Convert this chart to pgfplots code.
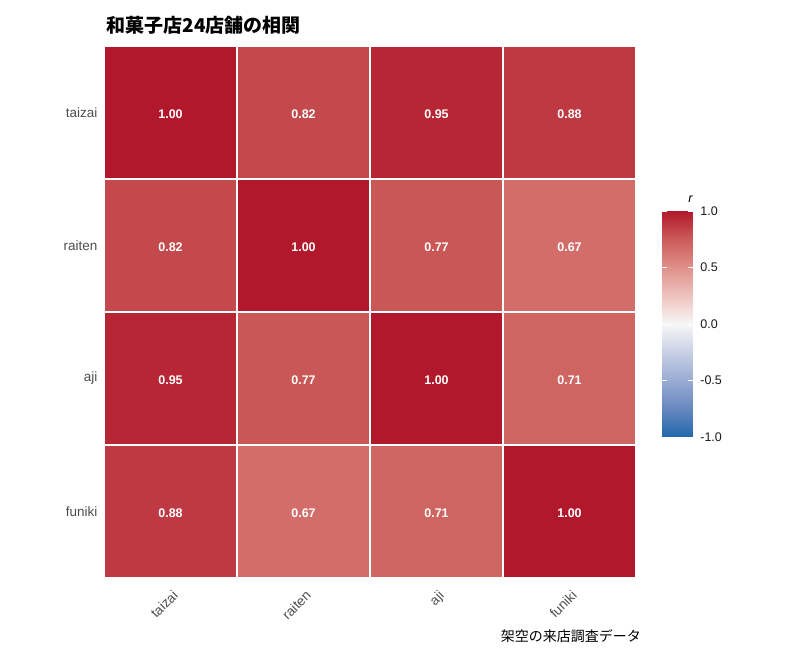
\documentclass[border=0pt]{standalone}
\usepackage{fontspec}
\setmainfont{Liberation Sans}
\newfontfamily\cjk{Noto Sans CJK JP}
\usepackage{pgfplots}
\usepackage{pgfplotstable}
\pgfplotsset{compat=1.18}
\definecolor{axtext}{HTML}{4D4D4D}
\pgfplotsset{colormap={rdbu}{rgb255=(33,102,172) rgb255=(102,136,191) rgb255=(153,171,210) rgb255=(200,208,228) rgb255=(247,247,247) rgb255=(238,195,191) rgb255=(224,144,138) rgb255=(203,92,89) rgb255=(178,24,43)}}
\pgfplotstableread{
x y r
0 0 0.88
1 0 0.67
2 0 0.71
3 0 1.00
0 1 0.95
1 1 0.77
2 1 1.00
3 1 0.71
0 2 0.82
1 2 1.00
2 2 0.77
3 2 0.67
0 3 1.00
1 3 0.82
2 3 0.95
3 3 0.88
}\cortable
\begin{document}
\begin{tikzpicture}
\fill[white] (0,0) rectangle (792pt,658pt);
\path[use as bounding box] (0,0) rectangle (792pt,658pt);
\begin{axis}[
  at={(104pt,80pt)}, anchor=south west,
  scale only axis, width=532pt, height=532pt,
  xmin=-0.5, xmax=3.5, ymin=-0.5, ymax=3.5,
  clip=false,
  axis line style={draw=none},
  major tick length=0pt,
  xtick={0,1,2,3}, xticklabels={taizai,raiten,aji,funiki},
  ytick={0,1,2,3}, yticklabels={funiki,aji,raiten,taizai},
  xticklabel style={xshift=1.3pt, yshift=-6.7pt, rotate=45, anchor=north east, font=\fontsize{13.5}{16}\selectfont, text=axtext},
  yticklabel style={font=\fontsize{13.5}{16}\selectfont, text=axtext, xshift=-3pt},
  colormap name=rdbu, point meta min=-1, point meta max=1,
  title={\cjk\bfseries\fontsize{19}{22}\selectfont 和菓子店24店舗の相関},
  title style={at={(0,1)}, anchor=base west, yshift=7pt, xshift=-1pt},
  colorbar,
  colorbar/width=30.6pt,
  colorbar style={
    scale only axis,
    width=30.6pt, height=226pt,
    at={(parent axis.south east)}, anchor=south west,
    xshift=17.7pt, yshift=141pt,
    axis line style={draw=none},
    ytick={-1,-0.5,0,0.5,1},
    ytick pos=both, yticklabel pos=right,
    tick align=inside, major tick length=4.5pt,
    tick style={white, line width=0.9pt},
    /pgf/number format/assume math mode=true,
    yticklabel style={font=\fontsize{12.5}{15}\selectfont, text=black!90, anchor=west, xshift=4pt,
      /pgf/number format/.cd, fixed, fixed zerofill, precision=1, /tikz/.cd},
    title={\fontsize{12.5}{15}\selectfont\itshape r},
    title style={at={(0.5,1)}, anchor=base, xshift=13pt, yshift=2pt},
  },
]
\addplot[matrix plot*, mesh/cols=4, point meta=explicit, draw=white, line width=1.8pt]
  table[x=x, y=y, meta=r] {\cortable};
\addplot[draw=none, mark=none, nodes near coords, point meta=explicit symbolic,
  nodes near coords align=center,
  every node near coord/.append style={text=white, font=\bfseries\fontsize{12.5}{15}\selectfont, anchor=center, yshift=-1.5pt}]
  table[x=x, y=y, meta=r] {\cortable};
\node[anchor=base east, inner sep=0pt] at (rel axis cs:1,0) [yshift=-64pt, xshift=5pt]
  {\cjk\fontsize{14}{16}\selectfont 架空の来店調査データ};
\end{axis}
\end{tikzpicture}
\end{document}
